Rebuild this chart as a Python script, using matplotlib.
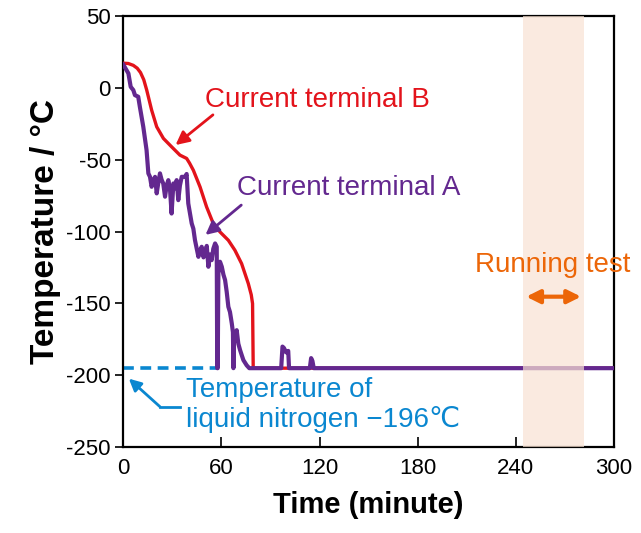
import matplotlib
matplotlib.use("Agg")
import matplotlib.pyplot as plt

plt.rcParams['font.family'] = ['Liberation Sans', 'DejaVu Sans']
plt.rcParams['axes.unicode_minus'] = False

# Current terminal B (red)
b_time = [0, 3.0, 6.1, 8.5, 10.5, 12.5, 14.3, 17.3, 20.4, 24.5, 29.5, 34.6, 38.7, 40.5,
          42.8, 46.9, 50.9, 55.0, 59.1, 64.2, 68.2, 72.3, 76.4, 78.2, 79.0, 79.4, 120, 200, 300]
b_temp = [17, 16.8, 15.5, 13.5, 10.5, 5.5, -1.7, -15.6, -27.2, -35.3, -41.1, -46.9, -49.2,
          -52.5, -57.4, -69, -82.9, -94.5, -100.3, -106.1, -113, -122.3, -136.2, -144,
          -150.1, -195, -195, -195, -195]

# Current terminal A (purple)
a_time = [0, 3.1, 4.5, 6.1, 7.1, 9.1, 10.1, 12.2, 14.2, 15.3, 16.3, 17.3, 18.4, 19.4,
          20.4, 21.4, 22.4, 23.4, 24.4, 25.5, 26.5, 27.5, 28.5, 29.5, 30.6, 31.6, 32.6,
          33.6, 34.6, 35.7, 37.7, 38.7, 39.7, 41.8, 42.8, 43.8, 45.9, 46.9, 47.9, 49.0,
          50.0, 51.0, 52.0, 53.0, 54.0, 55.0, 56.1, 57.1, 57.4, 57.7, 58.1, 59.1, 60.2,
          61.2, 62.2, 63.2, 64.2, 65.2, 66.3, 67.0, 67.3, 67.6, 68.3, 69.3, 70.3, 71.4,
          72.4, 73.4, 75.4, 77, 96.5, 97.3, 98.2, 99.5, 100.8, 101.3, 114.0, 114.8, 115.6,
          116.4, 200, 300]
a_temp = [16, 9.9, 0.6, -1.7, -5.2, -6.3, -13.3, -27.2, -43.4, -59.6, -62, -68.9, -64,
          -62, -73.5, -66, -59.6, -64, -66.6, -75.8, -68, -64.3, -70, -87.5, -66.6, -70,
          -64.3, -78.2, -68, -62, -62, -60, -80.5, -94.4, -98, -106, -117.6, -113, -110.6,
          -118, -115.2, -110, -124.5, -116, -119.9, -112, -108.3, -110.6, -195, -195, -129,
          -121, -124.5, -130, -133.7, -142, -152.3, -156, -163.9, -170, -195, -172, -176,
          -168.6, -178, -182.5, -186, -189.4, -193, -195, -195, -180, -181, -184, -183,
          -195, -195, -188, -190, -195, -195, -195]

# Liquid nitrogen level (dashed)
ln2_time = [0, 58]
ln2_temp = [-195, -195]

# Running test period
run_span = [244.6, 281.5]

x_ticks = [0, 60, 120, 180, 240, 300]
y_ticks = [50, 0, -50, -100, -150, -200, -250]

red = '#e3131b'
purple = '#63288f'
blue = '#0a87d0'
orange = '#ec6608'

fig = plt.figure(figsize=(6.41, 5.33), dpi=100)
ax = fig.add_axes([0.1924, 0.1608, 0.7656, 0.8097])

ax.plot(ln2_time, ln2_temp, color=blue, lw=2.6, ls=(0, (3, 1.8)), zorder=2)
ax.plot(b_time, b_temp, color=red, lw=2.4, zorder=3, solid_joinstyle='round')
ax.plot(a_time, a_temp, color=purple, lw=3.0, zorder=4, solid_joinstyle='round')
ax.axvspan(run_span[0], run_span[1], color='#f9e2d3', alpha=0.7, lw=0, zorder=5)

ax.set_xlim(0, 300)
ax.set_ylim(-250, 50)
ax.set_xticks(x_ticks)
ax.set_yticks(y_ticks)
ax.tick_params(axis='x', direction='in', length=7, width=1.2, labelsize=16, pad=8)
ax.tick_params(axis='y', direction='out', length=6, width=1.2, labelsize=16, pad=3)
for s in ax.spines.values():
    s.set_linewidth(1.6)

ax.set_xlabel('Time (minute)', fontsize=21, fontweight='bold', labelpad=8)
ax.set_ylabel('Temperature / °C', fontsize=24, fontweight='bold', labelpad=4)

# Annotations
ax.text(50.1, -13.3, 'Current terminal B', color=red, fontsize=20, va='baseline', ha='left')
ax.annotate('', xy=(30.6, -41.1), xytext=(56.1, -17.7),
            arrowprops=dict(arrowstyle='-|>', color=red, lw=2, mutation_scale=20))
ax.text(69.3, -74.6, 'Current terminal A', color=purple, fontsize=20, va='baseline', ha='left')
ax.annotate('', xy=(48.9, -103.6), xytext=(73.4, -80.4),
            arrowprops=dict(arrowstyle='-|>', color=purple, lw=2, mutation_scale=20))
ax.text(215, -127.9, 'Running test', color=orange, fontsize=20, va='baseline', ha='left', zorder=6)
ax.annotate('', xy=(244.6, -145.3), xytext=(281.5, -145.3),
            arrowprops=dict(arrowstyle='<|-|>', color=orange, lw=3, mutation_scale=20), zorder=6)

ax.text(38.3, -215, 'Temperature of', color=blue, fontsize=20, va='baseline', ha='left')
ax.text(38.3, -235.7, 'liquid nitrogen −196℃', color=blue, fontsize=20, va='baseline', ha='left')
ax.plot([34.7, 22.4], [-221.8, -221.8], color=blue, lw=2)
ax.annotate('', xy=(2.1, -201), xytext=(22.4, -221.8),
            arrowprops=dict(arrowstyle='-|>', color=blue, lw=2, mutation_scale=18,
                            shrinkA=0))

fig.savefig('out.png', dpi=100)
